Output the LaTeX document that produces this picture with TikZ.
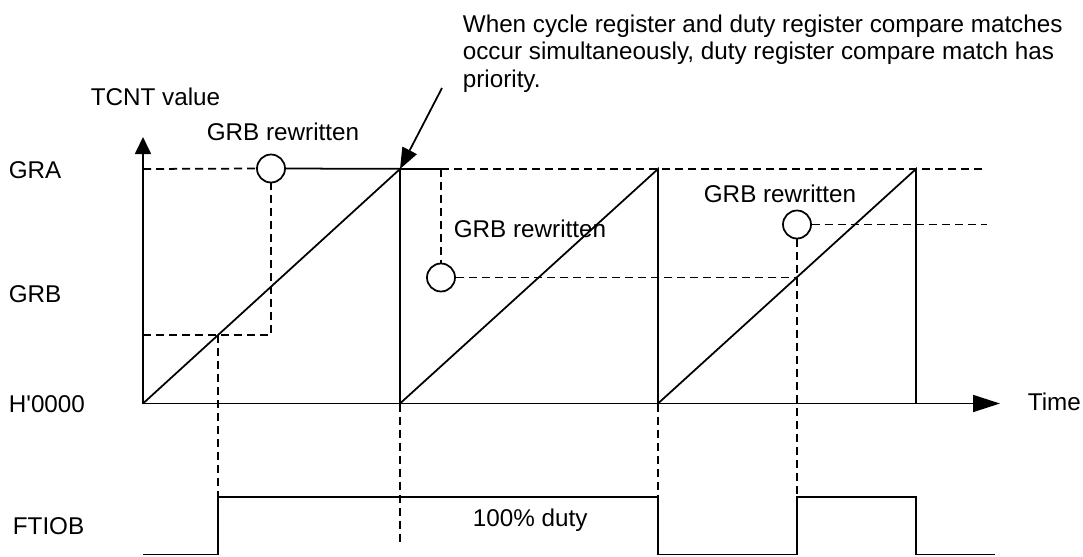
\documentclass[tikz,border=0pt]{standalone}
\usepackage{fontspec}
\setmainfont{Liberation Sans}
\usetikzlibrary{arrows.meta}
\tikzstyle{lbl}=[inner sep=0pt,anchor=base west,font=\fontsize{13.8}{15.6}\selectfont]
\tikzstyle{rcirc}=[circle,draw,line width=1pt,minimum size=0.56cm,inner sep=0pt]
\tikzstyle{guide}=[line width=1pt,dash pattern=on 4.6pt off 2.8pt]
\tikzstyle{wave}=[line width=1pt]

\begin{document}
\begin{tikzpicture}[x=0.02cm,y=-0.02cm,wave]
\useasboundingbox (0,0) rectangle (1083,556);
\node[lbl,align=left] (Note) at (462,87) {When cycle register and duty register compare matches\\occur simultaneously, duty register compare match has\\priority.};
\node[lbl] (Tcnt) at (90,105) {TCNT value};
\node[lbl] (Gra) at (8,178) {GRA};
\node[lbl] (Grb) at (8,302) {GRB};
\node[lbl] (Zero) at (8,412) {H\textquotesingle 0000};
\node[lbl] (Ftiob) at (12,534) {FTIOB};
\node[lbl] (Time) at (1027,410) {Time};
\node[lbl] (Duty) at (472,526) {100\% duty};
\node[lbl] (Rw1) at (206,140) {GRB rewritten};
\node[lbl] (Rw2) at (453,237) {GRB rewritten};
\node[lbl] (Rw3) at (703,202) {GRB rewritten};
\node[rcirc] (C1) at (271,168.5) {};
\node[rcirc] (C2) at (441,277.5) {};
\node[rcirc] (C3) at (797,224.5) {};
% counter
\coordinate (O) at (143,403.5);\coordinate (Ytop) at (143,137);\coordinate (Xend) at (1000,403.5);
\coordinate (T1) at (400,169);\coordinate (B1) at (400,403.5);
\coordinate (T2) at (658,169);\coordinate (B2) at (658,403.5);
\coordinate (T3) at (916,169);\coordinate (B3) at (916,403.5);
\coordinate (A0) at (143,169);\coordinate (A1) at (441,169);\coordinate (Aend) at (987,169);
\coordinate (G0) at (143,335);\coordinate (G1) at (271,335);\coordinate (P1) at (218,335);
\coordinate (P2) at (797,277.5);\coordinate (Bend) at (987,224.5);
\coordinate (Ns) at (442,88);
% FTIOB
\coordinate (L0) at (143,554.5);\coordinate (L1) at (218,554.5);\coordinate (F1) at (218,497);
\coordinate (F2) at (658,497);\coordinate (L2) at (658,554.5);\coordinate (L3) at (797,554.5);
\coordinate (F3) at (797,497);\coordinate (F4) at (916,497);\coordinate (L4) at (916,554.5);
\coordinate (L5) at (995,554.5);\coordinate (D1) at (400,545);
\draw[-{Triangle[length=0.34cm,width=0.32cm]}] (O)--(Ytop);
\draw[-{Triangle[length=0.54cm,width=0.34cm]}] (O)--(Xend);
\draw (O)--(T1)--(B1)--(T2)--(B2)--(T3)--(B3);
\draw[-{Triangle[length=0.42cm,width=0.32cm]}] (Ns)--(T1);
\draw[guide] (A0)--(C1.west);\draw (C1.east)--(A1);\draw[guide] (A1)--(Aend);
\draw[guide] (G0)--(G1)--(C1.south);\draw[guide] (P1)--(F1);
\draw[guide] (A1)--(C2.north);\draw[guide] (C2.east)--(P2);
\draw[guide] (C3.south)--(F3);\draw[guide] (C3.east)--(Bend);
\draw[guide] (B1)--(D1);\draw[guide] (B2)--(F2);
\draw (L0)--(L1)--(F1)--(F2)--(L2)--(L3)--(F3)--(F4)--(L4)--(L5);
\end{tikzpicture}
\end{document}
